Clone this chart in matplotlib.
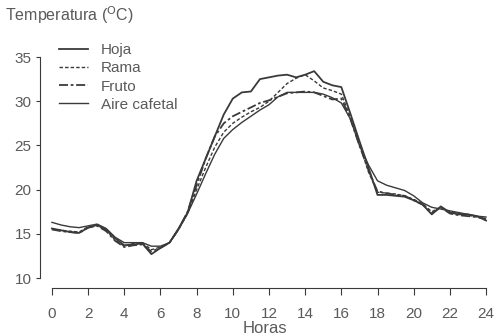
import matplotlib
matplotlib.use("Agg")
import matplotlib.pyplot as plt

plt.rcParams['font.family'] = ['Liberation Sans', 'DejaVu Sans']

#--- Data (hour, temperature in C)
hours = [0, 0.5, 1, 1.5, 2, 2.5, 3, 3.5, 4, 4.5, 5, 5.5, 6, 6.5, 7, 7.5,
         8, 8.5, 9, 9.5, 10, 10.5, 11, 11.5, 12, 12.5, 13, 13.5, 14, 14.5,
         15, 15.5, 16, 16.5, 17, 17.5, 18, 18.5, 19, 19.5, 20, 20.5, 21,
         21.5, 22, 22.5, 23, 23.5, 24]

hoja = [15.6, 15.4, 15.2, 15.1, 15.7, 16.0, 15.5, 14.5, 13.7, 13.8, 13.9, 12.7,
        13.4, 14.0, 15.6, 17.4, 21.0, 23.5, 26.0, 28.5, 30.3, 31.0, 31.1, 32.5,
        32.7, 32.9, 33.0, 32.7, 33.0, 33.4, 32.2, 31.8, 31.6, 28.6, 25.5, 22.5,
        19.4, 19.4, 19.3, 19.2, 18.8, 18.3, 17.2, 18.1, 17.4, 17.2, 17.2, 17.0,
        16.5]
rama = [15.5, 15.4, 15.3, 15.2, 15.8, 16.0, 15.4, 14.3, 13.6, 13.9, 14.0, 13.2,
        13.5, 14.0, 15.5, 17.3, 20.0, 22.5, 24.8, 26.5, 27.5, 28.2, 28.8, 29.3,
        30.0, 31.0, 32.0, 32.6, 33.0, 32.3, 31.5, 31.2, 30.8, 28.2, 25.2, 22.0,
        19.7, 19.6, 19.5, 19.3, 18.9, 18.4, 17.5, 18.0, 17.5, 17.3, 17.1, 16.9,
        16.6]
fruto = [15.5, 15.3, 15.2, 15.1, 15.7, 15.9, 15.3, 14.2, 13.5, 13.7, 13.8, 13.0,
         13.4, 14.0, 15.5, 17.5, 20.5, 23.5, 26.0, 27.5, 28.3, 28.8, 29.3, 29.8,
         30.1, 30.5, 30.9, 31.0, 31.1, 31.0, 30.6, 30.2, 30.3, 28.0, 25.0, 22.2,
         19.8, 19.6, 19.4, 19.3, 18.8, 18.3, 17.3, 18.0, 17.3, 17.1, 17.0, 16.9,
         16.7]
aire = [16.3, 16.0, 15.8, 15.7, 15.9, 16.1, 15.6, 14.6, 14.0, 14.0, 14.0, 13.6,
        13.6, 14.0, 15.5, 17.3, 19.5, 21.8, 24.0, 25.8, 26.8, 27.6, 28.3, 29.0,
        29.6, 30.5, 31.0, 31.0, 31.0, 31.0, 30.8, 30.4, 29.8, 28.0, 25.0, 22.8,
        21.0, 20.5, 20.2, 19.9, 19.3, 18.5, 18.0, 17.8, 17.6, 17.4, 17.2, 17.0,
        16.9]

xticks = list(range(0, 25, 2))
yticks = [10, 15, 20, 25, 30, 35]

ink = '#3a3a3a'
txt = '#5a5a5a'

fig = plt.figure(figsize=(4.96, 3.36), dpi=100)
# axes box in pixels: left 40, bottom edge at y=288, top edge at y=52.6
ax = fig.add_axes([40/496, 48/336, 450/496, 235.4/336])

ax.plot(hours, hoja, color=ink, lw=1.3, ls='-', label='Hoja')
ax.plot(hours, rama, color=ink, lw=1.0, ls=(0, (2.5, 1.5)), label='Rama')
ax.plot(hours, fruto, color=ink, lw=1.3, ls=(0, (5, 1.5, 1.5, 1.5)), label='Fruto')
ax.plot(hours, aire, color=ink, lw=1.0, ls='-', label='Aire cafetal')

ax.set_xlim(-0.66, 24.22)
ax.set_ylim(8.87, 35.5)

for s in ['top', 'right']:
    ax.spines[s].set_visible(False)
ax.spines['left'].set_bounds(10, 35)
ax.spines['bottom'].set_bounds(0, 24)
ax.spines['left'].set_color(ink)
ax.spines['bottom'].set_color(ink)

ax.set_xticks(xticks)
ax.set_yticks(yticks)
ax.tick_params(axis='y', direction='out', length=3, color=ink, labelcolor=txt,
               labelsize=11, pad=3)
ax.tick_params(axis='x', direction='out', length=5, color=ink, labelcolor=txt,
               labelsize=11, pad=9)

ax.set_xlabel('Horas', color=txt, fontsize=12, labelpad=0)
fig.text(5/496, 1 - 15/336, 'Temperatura ($^{\\mathrm{O}}$C)', color=txt,
         fontsize=11.5, va='center', ha='left')

leg = ax.legend(loc='upper left', bbox_to_anchor=(59/496, 1 - 43/336),
                bbox_transform=fig.transFigure, frameon=False, fontsize=11,
                handlelength=1.9, handletextpad=0.85, labelspacing=0.28,
                borderpad=0, borderaxespad=0)
for t in leg.get_texts():
    t.set_color(txt)

fig.savefig('out.png', dpi=100)
